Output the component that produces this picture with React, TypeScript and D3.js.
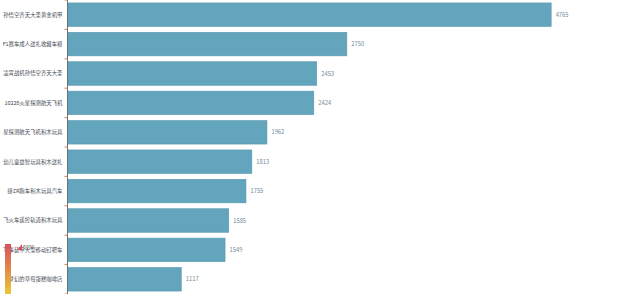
import React from "react";
import * as d3 from "d3";

// Product names (y-axis categories), top to bottom
const products = [
  "孙悟空齐天大圣黄金机甲",
  "F1赛车成人送礼收藏车模",
  "凌霄战机孙悟空齐天大圣",
  "10228火星探测航天飞机",
  "星探测航天飞机积木玩具",
  "幼儿童益智玩具积木送礼",
  "捷ZR跑车积木玩具汽车",
  "飞火车遥控轨道积木玩具",
  "军事装甲大型移动钉靶车",
  "梦幻的草莓蛋糕咖啡店",
];

// Sales values for each product
const sales = [4765, 2750, 2453, 2424, 1962, 1813, 1755, 1585, 1549, 1117];

// Visual-map range
const mapMax = 5000;

const W = 640;
const H = 294;
const axisX = 67.5;
const FONT = "'Noto Sans CJK SC', 'Noto Sans', sans-serif";

export default function App() {
  const x = d3.scaleLinear().domain([0, mapMax]).range([axisX, axisX + 507]);
  const y = d3
    .scaleBand<string>()
    .domain(products)
    .range([0, H])
    .paddingInner(0.2)
    .paddingOuter(0.1);
  const ticks = d3.range(products.length + 1).map((i) => i * (H / products.length));

  return (
    <div style={{ position: "fixed", left: 0, top: 0, width: W, height: H, background: "#fff" }}>
      <svg width={W} height={H} style={{ display: "block", fontFamily: FONT }}>
        <defs>
          <linearGradient id="vm" x1="0" y1="0" x2="0" y2="1">
            <stop offset="0" stopColor="#d94e5d" />
            <stop offset="0.5" stopColor="#eac736" />
            <stop offset="1" stopColor="#50a3ba" />
          </linearGradient>
        </defs>

        {/* bars */}
        {products.map((p, i) => (
          <g key={p}>
            <rect
              x={x(0) + 0.5}
              y={y(p)!}
              width={x(sales[i]) - x(0)}
              height={y.bandwidth()}
              fill="#63a5bd"
              stroke="#5a98b0"
              strokeWidth={0.6}
            />
            <text
              x={x(sales[i]) + 5}
              y={y(p)! + y.bandwidth() / 2}
              dy="0.35em"
              fontSize={5.8}
              fill="#6f8b9c"
            >
              {sales[i]}
            </text>
            <text
              x={axisX - 5}
              y={y(p)! + y.bandwidth() / 2}
              dy="0.35em"
              fontSize={5.4}
              textAnchor="end"
              fill="#454b55"
            >
              {p}
            </text>
          </g>
        ))}

        {/* category axis */}
        <line x1={axisX} x2={axisX} y1={0} y2={H} stroke="#6e7079" strokeWidth={1} />
        {ticks.map((t, i) => (
          <line key={i} x1={axisX - 3} x2={axisX} y1={t} y2={t} stroke="#c8894a" strokeWidth={1} />
        ))}

        {/* continuous visual map */}
        <rect x={5} y={244} width={6} height={100} fill="url(#vm)" />
        <path d="M17,250 L22,244 L22,250 Z" fill="#d94e5d" />
        <text x={23} y={247} dy="0.35em" fontSize={5} fill="#555">
          {mapMax}
        </text>
      </svg>
    </div>
  );
}
